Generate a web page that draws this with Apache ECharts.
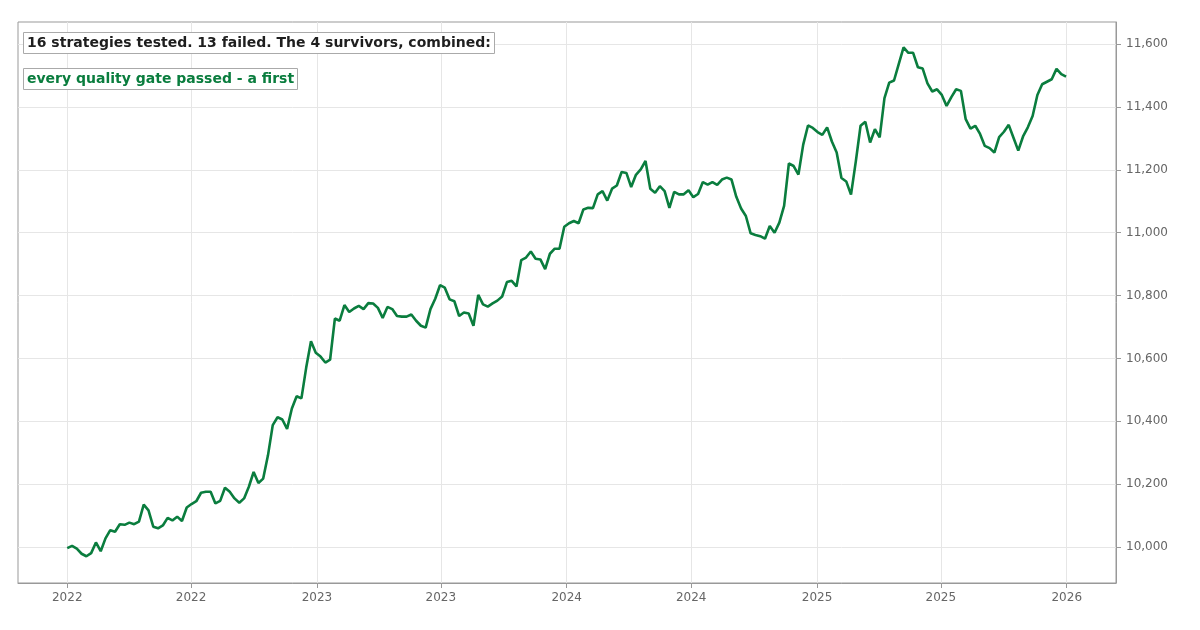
<!DOCTYPE html>
<html>
<head>
<meta charset="utf-8">
<script src="https://cdn.jsdelivr.net/npm/echarts@6/dist/echarts.min.js"></script>
<style>
html,body{margin:0;padding:0;background:#fff;}
#chart{width:1200px;height:630px;}
</style>
</head>
<body>
<div id="chart"></div>
<script>
// Data (weekly-ish equity curve, Jan 2022 - Dec 2025)
const startDate = '2022-01-01';
const endDate = '2025-12-31';
const equity = [
  9997, 10004, 9995, 9979, 9971, 9981, 10015, 9987, 10028, 10054,
  10049, 10073, 10071, 10078, 10073, 10081, 10135, 10117, 10065, 10060,
  10069, 10093, 10085, 10097, 10083, 10126, 10137, 10146, 10173, 10176,
  10176, 10139, 10147, 10189, 10176, 10155, 10141, 10155, 10192, 10239,
  10204, 10218, 10292, 10388, 10413, 10406, 10376, 10441, 10480, 10473,
  10571, 10655, 10618, 10606,
  10587, 10596, 10727, 10720, 10770, 10748, 10759, 10767, 10757, 10776,
  10775, 10761, 10729, 10764, 10757, 10735, 10733, 10733, 10740, 10720,
  10704, 10698, 10757, 10790, 10833, 10825, 10788, 10782, 10735, 10746,
  10743, 10704, 10802, 10772, 10765, 10775, 10784, 10797, 10843, 10847,
  10829, 10913, 10921, 10940, 10917, 10915, 10884, 10933, 10949, 10949,
  11019, 11030,
  11037, 11030,
  11074, 11079, 11078, 11122, 11132, 11102, 11140, 11150, 11193, 11190,
  11145, 11184, 11201, 11228, 11140, 11127, 11148, 11132, 11079, 11130,
  11122, 11122, 11135, 11113, 11123, 11161, 11153, 11161, 11152, 11169,
  11175, 11169, 11114, 11077, 11053, 10998, 10993, 10989, 10981, 11021,
  11000, 11032, 11085, 11220, 11212, 11185, 11280, 11341, 11333, 11320,
  11311, 11335, 11290, 11255, 11174, 11163, 11121, 11226, 11340, 11353,
  11287, 11329, 11303, 11428, 11477, 11484, 11537, 11589, 11572, 11572,
  11526, 11522, 11475, 11449, 11456, 11438, 11403, 11431, 11456, 11451,
  11361, 11331, 11340, 11314, 11276, 11269, 11255, 11304, 11321, 11343,
  11302, 11261, 11306, 11335, 11371, 11438, 11472, 11480, 11488, 11521,
  11504, 11496
];
const xTicks = ['2022-01-01','2022-07-01','2023-01-01','2023-07-01','2024-01-01','2024-07-01','2025-01-01','2025-07-01','2026-01-01'];
const yTicks = [10000, 10200, 10400, 10600, 10800, 11000, 11200, 11400, 11600];
const headline = '16 strategies tested. 13 failed. The 4 survivors, combined:';
const subline = 'every quality gate passed - a first';

function parseLocal(s){ const p = s.split('-').map(Number); return new Date(p[0], p[1]-1, p[2]).getTime(); }
const t0 = parseLocal(startDate), t1 = parseLocal(endDate);
const dates = equity.map((_, i) => t0 + i * (t1 - t0) / (equity.length - 1));
const seriesData = equity.map((v, i) => [dates[i], v]);
const DAY = 86400000;
const xTickVals = xTicks.map(parseLocal);

const font = 'DejaVu Sans';
const chart = echarts.init(document.getElementById('chart'), null, {renderer:'canvas'});
chart.setOption({
  animation: false,
  backgroundColor: '#fff',
  title: [
    {text: headline, left: 23, top: 32, padding: [4,4,4,4], backgroundColor:'#fff', borderColor:'#aaa', borderWidth:1,
     textStyle:{fontFamily:font, fontSize:14, fontWeight:'bold', color:'#1e1e1e', lineHeight:14}},
    {text: subline, left: 23, top: 68, padding: [4,4,4,4], backgroundColor:'#fff', borderColor:'#aaa', borderWidth:1,
     textStyle:{fontFamily:font, fontSize:14, fontWeight:'bold', color:'#0a7d3e', lineHeight:14}}
  ],
  grid: {left:18, right:84, top:22, bottom:47, show:true, borderColor:'#999', borderWidth:1, backgroundColor:'transparent'},
  xAxis: {
    type:'value',
    scale:true,
    min: t0 - 72*DAY,
    max: t1 + 73*DAY,
    axisLine:{show:true, lineStyle:{color:'#999'}},
    axisTick:{show:true, length:5, lineStyle:{color:'#999'}, customValues: xTickVals},
    axisLabel:{color:'#666', fontFamily:font, fontSize:12, margin:9, customValues: xTickVals,
      formatter: v => String(new Date(v).getFullYear())},
    splitLine:{show:true, lineStyle:{color:'#e6e6e6', width:1}}
  },
  yAxis: {
    type:'value',
    position:'right',
    min: 9886,
    max: 11670,
    axisLine:{show:true, lineStyle:{color:'#999'}},
    axisTick:{show:true, length:5, lineStyle:{color:'#999'}, customValues: yTicks},
    axisLabel:{color:'#666', fontFamily:font, fontSize:12, margin:10, customValues: yTicks,
      formatter: v => v.toLocaleString('en-US')},
    splitLine:{show:true, lineStyle:{color:'#e6e6e6', width:1}}
  },
  series: [{
    type:'line',
    data: seriesData,
    showSymbol:false,
    lineStyle:{color:'#0a7d3e', width:2.6},
    itemStyle:{color:'#0a7d3e'}
  }]
});
</script>
</body>
</html>
